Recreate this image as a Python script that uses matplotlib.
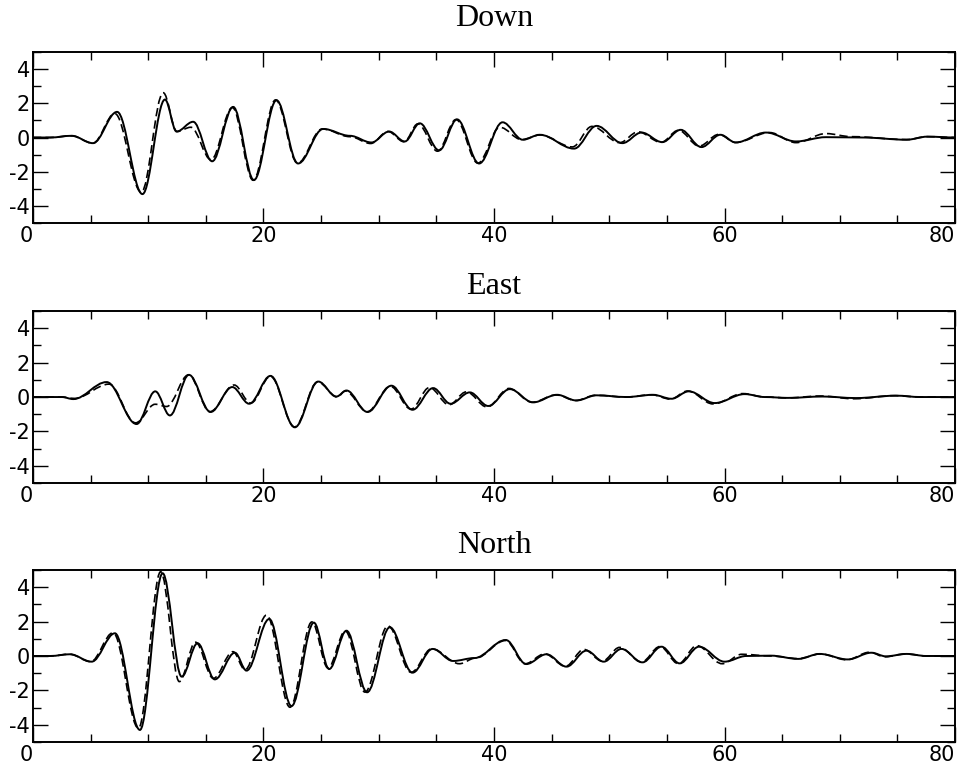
import matplotlib
matplotlib.use("Agg")
import matplotlib.pyplot as plt
from matplotlib.path import Path
from matplotlib.patches import PathPatch
from matplotlib.ticker import MultipleLocator

# peak / trough times (s) and amplitudes for each component
down_t = [0, 1.5, 3.35, 5.2, 7.3, 9.5, 11.45, 12.46, 13.9, 15.55, 17.37, 19.17, 21.13, 23.0,
          25.18, 27.5, 29.37, 30.9, 32.26, 33.56, 35.24, 36.8, 38.71, 40.74, 42.5, 43.97,
          46.95, 48.9, 51.14, 52.8, 54.6, 56.2, 58.0, 59.64, 60.97, 63.6, 66.2, 68.8, 72.0,
          75.8, 77.6, 80]
down_v = [0, 0, 0.1, -0.33, 1.5, -3.31, 2.22, 0.35, 0.92, -1.39, 1.79, -2.49, 2.18, -1.52,
          0.5, 0.1, -0.29, 0.35, -0.23, 0.83, -0.75, 1.06, -1.52, 0.89, -0.13, 0.16,
          -0.65, 0.68, -0.33, 0.29, -0.27, 0.45, -0.56, 0.16, -0.29, 0.29, -0.23, 0.02, 0.0,
          -0.13, 0.05, 0]
down_syn_t = [0, 1.5, 3.35, 5.2, 7.1, 9.4, 11.3, 12.5, 13.7, 15.45, 17.3, 19.1, 21.05, 22.95,
              25.1, 27.5, 29.3, 30.8, 32.2, 33.4, 35.1, 36.7, 38.6, 40.5, 42.4, 44.0,
              46.8, 48.5, 50.9, 52.5, 54.5, 56.0, 57.8, 59.5, 60.97, 63.9, 66.2, 68.8, 71.0,
              75.8, 77.6, 80]
down_syn_v = [0, 0, 0.1, -0.33, 1.4, -3.2, 2.62, 0.35, 0.6, -1.3, 1.75, -2.5, 2.2, -1.5,
              0.5, 0.05, -0.35, 0.35, -0.25, 0.8, -0.8, 1.05, -1.5, 0.6, -0.12, 0.15,
              -0.55, 0.65, -0.3, 0.33, -0.28, 0.42, -0.5, 0.18, -0.29, 0.29, -0.3, 0.23, 0.05,
              -0.12, 0.05, 0]

east_t = [0, 2.5, 3.5, 6.39, 8.99, 10.61, 11.88, 13.53, 15.41, 17.29, 18.76, 20.61, 22.72,
          24.75, 26.33, 27.2, 29.03, 31.1, 32.93, 34.72, 36.23, 37.9, 39.5, 41.37, 43.39,
          45.47, 47.15, 48.89, 51.5, 53.8, 55.4, 56.9, 59.15, 61.75, 63.5, 65.5, 68.5,
          71.4, 74.9, 77.0, 80]
east_v = [0, 0, -0.12, 0.87, -1.57, 0.33, -1.07, 1.29, -0.87, 0.58, -0.39, 1.23, -1.76,
          0.9, 0.03, 0.38, -0.87, 0.66, -0.74, 0.52, -0.39, 0.27, -0.52, 0.46, -0.31,
          0.13, -0.2, 0.1, 0.0, 0.13, -0.1, 0.33, -0.35, 0.17, 0.0, -0.05, 0.03,
          -0.06, 0.08, 0.0, 0]
east_syn_t = [0, 2.5, 3.6, 6.6, 8.9, 10.6, 11.6, 13.5, 15.35, 17.45, 18.9, 20.6, 22.7,
              24.7, 26.4, 27.1, 29.0, 31.0, 32.8, 34.4, 36.1, 37.6, 39.4, 41.3, 43.3,
              45.4, 47.1, 48.8, 51.5, 53.7, 55.3, 56.8, 59.0, 61.6, 63.5, 65.5, 68.3,
              71.2, 74.8, 77.0, 80]
east_syn_v = [0, 0, -0.08, 0.75, -1.5, -0.42, -0.55, 1.29, -0.85, 0.7, -0.35, 1.2, -1.74,
              0.88, 0.0, 0.35, -0.85, 0.62, -0.7, 0.55, -0.45, 0.3, -0.58, 0.5, -0.3,
              0.12, -0.2, 0.1, 0.0, 0.13, -0.12, 0.35, -0.4, 0.2, 0.0, -0.05, 0.06,
              -0.1, 0.08, 0.0, 0]

north_t = [0, 1.5, 3.2, 5.09, 7.11, 9.28, 11.25, 12.9, 14.28, 15.78, 17.52, 18.53, 20.5,
           22.43, 24.37, 25.7, 27.2, 28.99, 30.96, 32.93, 34.67, 36.45, 38.3, 41.02, 42.8,
           44.55, 46.29, 48.02, 49.52, 51.06, 52.88, 54.53, 56.11, 57.79, 60.0, 61.9, 64.0,
           66.4, 68.26, 70.7, 72.74, 74.0, 75.8, 77.5, 80]
north_v = [0, 0, 0.1, -0.33, 1.32, -4.3, 4.81, -1.2, 0.74, -1.36, 0.19, -0.85, 2.15,
           -2.91, 1.94, -0.76, 1.47, -2.11, 1.67, -0.97, 0.41, -0.29, -0.12, 0.93, -0.47,
           0.1, -0.62, 0.31, -0.33, 0.41, -0.37, 0.54, -0.43, 0.54, -0.33, 0.0, 0.02,
           -0.17, 0.12, -0.2, 0.19, -0.02, 0.12, 0.0, 0]
north_syn_t = [0, 1.5, 3.2, 5.0, 6.95, 9.15, 11.08, 12.7, 14.1, 15.65, 17.35, 18.4, 20.27,
               22.3, 24.2, 25.6, 27.1, 28.8, 30.8, 32.8, 34.6, 37.0, 38.4, 41.0, 42.7,
               44.4, 46.2, 47.8, 49.4, 50.9, 52.8, 54.4, 56.0, 57.6, 59.8, 61.5, 64.0,
               66.4, 68.3, 70.6, 72.6, 73.9, 75.7, 77.5, 80]
north_syn_v = [0, 0, 0.1, -0.33, 1.35, -4.2, 4.9, -1.49, 0.8, -1.3, 0.25, -0.8, 2.38,
               -2.98, 1.98, -0.7, 1.45, -2.1, 1.75, -0.95, 0.42, -0.45, -0.12, 0.9, -0.45,
               0.12, -0.6, 0.38, -0.3, 0.5, -0.35, 0.55, -0.45, 0.6, -0.45, 0.1, 0.0,
               -0.15, 0.12, -0.22, 0.22, -0.05, 0.12, 0.0, 0]

titles = ["Down", "East", "North"]
x_ticks = [0, 20, 40, 60, 80]
y_ticks = [-4, -2, 0, 2, 4]

plt.rcParams["font.family"] = ["DejaVu Sans"]
plt.rcParams["axes.unicode_minus"] = False


def wave_path(t, v, k=0.36):
    # smooth trace through the extrema: cubic segments with flat tangents at each knot
    verts = [(t[0], v[0])]
    codes = [Path.MOVETO]
    for i in range(1, len(t)):
        dt = t[i] - t[i - 1]
        verts += [(t[i - 1] + k * dt, v[i - 1]), (t[i] - k * dt, v[i]), (t[i], v[i])]
        codes += [Path.CURVE4] * 3
    return Path(verts, codes)


fig = plt.figure(figsize=(9.67, 7.65), dpi=100)
boxes = [[0.0341, 0.7085, 0.9535, 0.2235],
         [0.0341, 0.3686, 0.9535, 0.2248],
         [0.0341, 0.0301, 0.9535, 0.2248]]
title_pads = [19, 12, 12]
traces = [(down_t, down_v, down_syn_t, down_syn_v),
          (east_t, east_v, east_syn_t, east_syn_v),
          (north_t, north_v, north_syn_t, north_syn_v)]

for box, title, tpad, (t1, v1, t2, v2) in zip(boxes, titles, title_pads, traces):
    ax = fig.add_axes(box)
    ax.add_patch(PathPatch(wave_path(t1, v1), fill=False, color="black", lw=1.4))
    ax.add_patch(PathPatch(wave_path(t2, v2), fill=False, color="black", lw=1.2,
                           linestyle=(0, (5, 2.5))))
    ax.set_xlim(0, 80)
    ax.set_ylim(-5, 5)
    ax.set_xticks(x_ticks, labels=[str(x) for x in x_ticks])
    ax.set_yticks(y_ticks, labels=[str(y) for y in y_ticks])
    ax.xaxis.set_minor_locator(MultipleLocator(5))
    ax.yaxis.set_minor_locator(MultipleLocator(1))
    ax.tick_params(which="both", direction="in", top=True, right=True, width=1.0,
                   labelsize=15, pad=2)
    ax.tick_params(which="major", length=10.5)
    ax.tick_params(which="minor", length=5.5)
    labels = ax.get_xticklabels()
    labels[0].set_ha("right")
    labels[-1].set_ha("right")
    for side in ax.spines.values():
        side.set_linewidth(1.4)
    ax.set_title(title, family="Liberation Serif", fontsize=23, pad=tpad)

plt.savefig("out.png", dpi=100)
